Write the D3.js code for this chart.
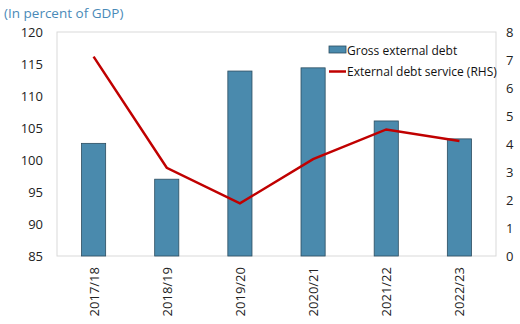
<!DOCTYPE html>
<html><head><meta charset="utf-8">
<script src="https://cdn.jsdelivr.net/npm/d3@7"></script>
<style>body{margin:0;background:#fff;}svg{display:block;font-family:"Open Sans","Noto Sans",sans-serif;}</style>
</head><body>
<svg id="c" width="520" height="324"></svg>
<script>
const categories = ["2017/18","2018/19","2019/20","2020/21","2021/22","2022/23"];
const grossDebt = [102.6, 97.0, 113.9, 114.4, 106.1, 103.3];
const debtService = [7.12, 3.15, 1.88, 3.46, 4.52, 4.11];
const leftTicks = [85,90,95,100,105,110,115,120];
const rightTicks = [0,1,2,3,4,5,6,7,8];

const svg = d3.select("#c");
const L = 57, R = 496, T = 32, B = 256;
const x = d3.scaleBand().domain(categories).range([L, R]).paddingInner(0.67).paddingOuter(0.335);
const yL = d3.scaleLinear().domain([85,120]).range([B, T]);
const yR = d3.scaleLinear().domain([0,8]).range([B, T]);

svg.append("rect").attr("x", L).attr("y", T).attr("width", R-L).attr("height", B-T)
  .attr("fill", "none").attr("stroke", "#d9d9d9").attr("stroke-width", 1);

svg.append("text").attr("x", 4).attr("y", 18).attr("fill", "#4a8ab8")
  .attr("font-size", 13.5).text("(In percent of GDP)");

const ax = svg.append("g").attr("transform", `translate(${L-6},0)`)
  .call(d3.axisLeft(yL).tickValues(leftTicks).tickSize(0).tickPadding(8));
ax.select(".domain").remove();
ax.selectAll("text").attr("font-size", 13).attr("fill", "#222").attr("font-family", "Open Sans, Noto Sans, sans-serif");

const axr = svg.append("g").attr("transform", `translate(${R+2},0)`)
  .call(d3.axisRight(yR).tickValues(rightTicks).tickSize(0).tickPadding(8));
axr.select(".domain").remove();
axr.selectAll("text").attr("font-size", 13).attr("fill", "#222").attr("font-family", "Open Sans, Noto Sans, sans-serif");

const axb = svg.append("g").attr("transform", `translate(0,${B})`)
  .call(d3.axisBottom(x).tickSize(0).tickPadding(0));
axb.select(".domain").remove();
axb.selectAll("text").attr("font-size", 13).attr("fill", "#222").attr("font-family", "Open Sans, Noto Sans, sans-serif")
  .attr("text-anchor", "end").attr("transform", "translate(5,11) rotate(-90)").attr("dy", "0").attr("y", 0);

svg.append("g").selectAll("rect").data(categories).join("rect")
  .attr("x", d => x(d)).attr("width", x.bandwidth())
  .attr("y", (d,i) => yL(grossDebt[i])).attr("height", (d,i) => B - yL(grossDebt[i]))
  .attr("fill", "#4a8aad").attr("stroke", "#2c4d60").attr("stroke-width", 0.8);

const line = d3.line().x((d,i) => x(categories[i]) + x.bandwidth()/2).y(d => yR(d));
svg.append("path").datum(debtService).attr("d", line).attr("fill", "none")
  .attr("stroke", "#c00000").attr("stroke-width", 2.5).attr("stroke-linejoin", "miter");

const lg = svg.append("g");
lg.append("rect").attr("x", 329).attr("y", 46).attr("width", 17).attr("height", 7)
  .attr("fill", "#4a8aad").attr("stroke", "#2c4d60").attr("stroke-width", 0.8);
lg.append("text").attr("x", 347).attr("y", 54.5).attr("font-size", 12).attr("fill", "#111").text("Gross external debt");
lg.append("line").attr("x1", 329).attr("x2", 346).attr("y1", 71.5).attr("y2", 71.5)
  .attr("stroke", "#c00000").attr("stroke-width", 2.5);
lg.append("text").attr("x", 347).attr("y", 76).attr("font-size", 12).attr("fill", "#111").text("External debt service (RHS)");
</script>
</body></html>
